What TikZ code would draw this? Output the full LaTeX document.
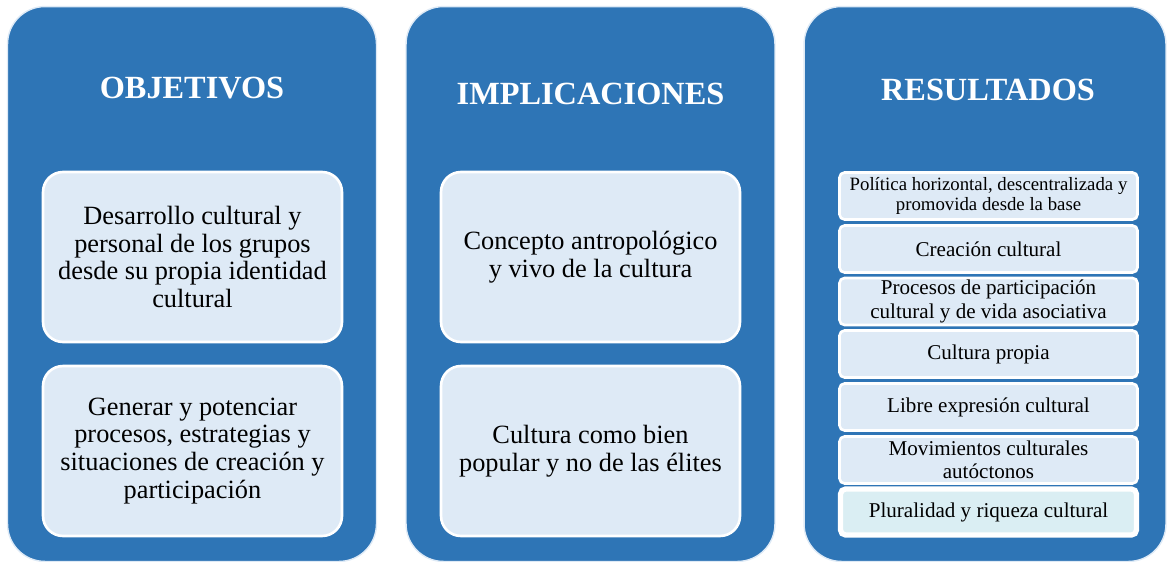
\documentclass[tikz,border=0pt]{standalone}
\usepackage{fontspec}
\setmainfont{Liberation Serif}
\usetikzlibrary{positioning}
\definecolor{panelblue}{RGB}{46,117,182}
\definecolor{cardblue}{RGB}{222,234,246}
\definecolor{lastcard}{RGB}{218,238,243}
\begin{document}
\begin{tikzpicture}
[x=0.02cm, y=-0.02cm,
 panel/.style={rectangle, rounded corners=0.75cm, fill=panelblue, draw=cardblue,
   line width=0.8pt, minimum width=7.38cm, minimum height=11.1cm},
 heading/.style={text=white, font=\fontsize{18.4}{20}\selectfont\bfseries},
 card/.style={rectangle, rounded corners=0.4cm, fill=cardblue, draw=white,
   line width=1.5pt, minimum width=5.98cm, minimum height=3.4cm, align=center,
   font=\fontsize{15}{15.9}\selectfont},
 item/.style={rectangle, rounded corners=0.1cm, fill=cardblue, draw=white,
   line width=1.5pt, minimum width=5.96cm, minimum height=0.94cm, inner sep=1pt,
   align=center, font=\fontsize{12}{13.4}\selectfont}]
\useasboundingbox (0,0) rectangle (1168,561);

\node (p1) at (192,284)[panel] {};
\node (p2) at (590.5,284)[panel] {};
\node (p3) at (985,284)[panel, minimum width=7.24cm] {};

\node (t1) at (192,88)[heading] {OBJETIVOS};
\node (t2) at (590.5,93.5)[heading] {IMPLICACIONES};
\node (t3) at (988,90)[heading] {RESULTADOS};

% objetivos
\node (o1) at (192.5,257)[card] {Desarrollo cultural y\\personal de los grupos\\desde su propia identidad\\cultural};
\node (o2) at (192.5,451)[card] {Generar y potenciar\\procesos, estrategias y\\situaciones de creaci\'on y\\participaci\'on};

% implicaciones
\node (i1) at (590.5,257)[card] {Concepto antropol\'ogico\\y vivo de la cultura};
\node (i2) at (590.5,451)[card] {Cultura como bien\\popular y no de las \'elites};

% resultados
\node (r1) at (988.5,196)[item, font=\fontsize{10.7}{11.5}\selectfont] {Pol\'itica horizontal, descentralizada y\\promovida desde la base};
\node (r2) at (988.5,249)[item] {Creaci\'on cultural};
\node (r3) at (988.5,301.5)[item] {Procesos de participaci\'on\\cultural y de vida asociativa};
\node (r4) at (988.5,354)[item] {Cultura propia};
\node (r5) at (988.5,407)[item] {Libre expresi\'on cultural};
\node (r6) at (988.5,460)[item] {Movimientos culturales\\aut\'octonos};
\node (r7) at (988.5,512)[item, fill=lastcard, line width=3pt, minimum width=5.92cm, minimum height=0.92cm] {Pluralidad y riqueza cultural};

\end{tikzpicture}
\end{document}
